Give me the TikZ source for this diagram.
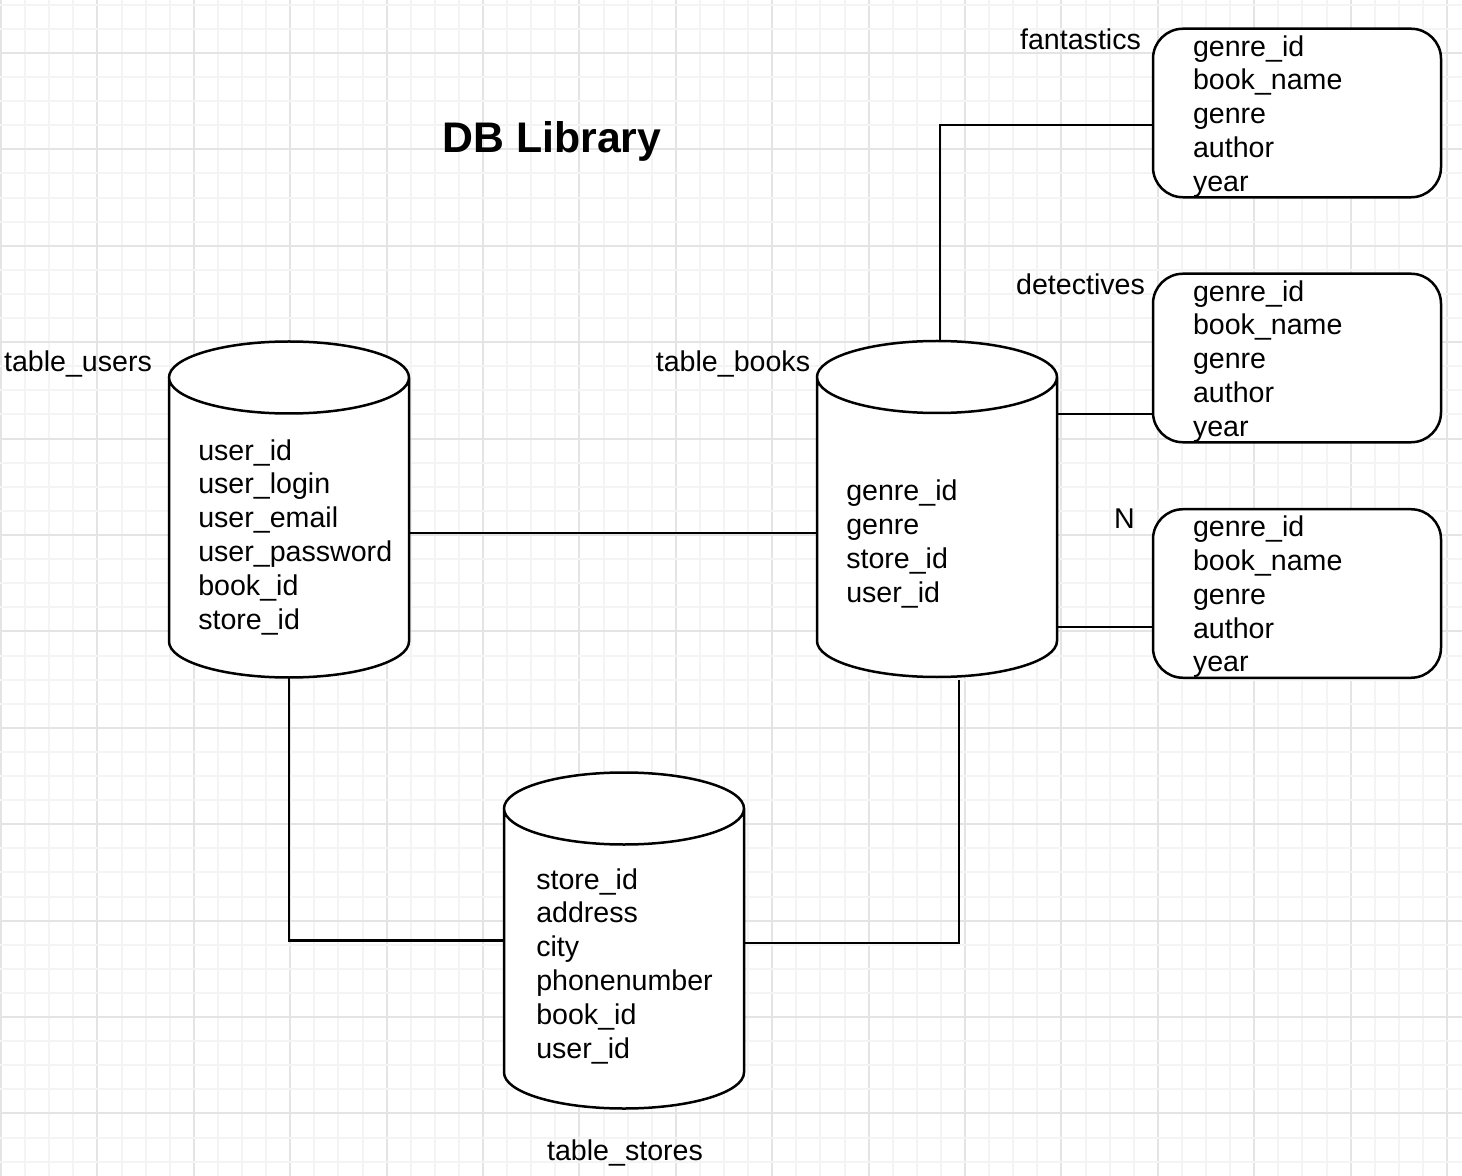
\documentclass[tikz,border=0pt]{standalone}
\usepackage{fontspec}
\setmainfont{Liberation Sans}
\usetikzlibrary{positioning,calc}
\definecolor{gridminor}{HTML}{F4F4F4}
\definecolor{gridmajor}{HTML}{E4E4E4}

\begin{document}
\begin{tikzpicture}[x=0.5pt, y=-0.5pt, line width=1.25pt,
    txt/.style={font=\fontsize{14.3pt}{16.9pt}\selectfont, inner sep=0pt, align=left},
    cyl/.style={minimum width=120pt, minimum height=168pt, inner sep=0pt, outer sep=0pt},
    gbox/.style={txt, draw, fill=white, rounded corners=15pt, text width=104pt,
        text height=13.7pt, inner xsep=20pt, minimum height=84pt}]
    \useasboundingbox (0,0) rectangle (1462,1176);
    \fill[white] (0,0) rectangle (1462,1176);

    % grid
    \foreach \k in {0,...,60} {
        \pgfmathtruncatemacro{\m}{mod(\k,4)}
        \ifnum\m=0 \def\gc{gridmajor}\else \def\gc{gridminor}\fi
        \draw[\gc, line width=1pt] ({1+24.1*\k}, 0) -- ({1+24.1*\k}, 1176);
    }
    \foreach \k in {0,...,48} {
        \pgfmathtruncatemacro{\m}{mod(\k+2,4)}
        \ifnum\m=0 \def\gc{gridmajor}\else \def\gc{gridminor}\fi
        \draw[\gc, line width=1pt] (0, {4.8+24.1*\k}) -- (1462, {4.8+24.1*\k});
    }

    \node[font=\fontsize{21.4pt}{25pt}\selectfont\bfseries] (title) at (552, 141) {DB Library};

    % tables
    \node[cyl] (users) at (289, 509.5) {};
    \node[cyl] (books) at (937, 509) {};
    \node[cyl] (stores) at (624, 940.5) {};
    \foreach \c in {users, books, stores} {
        \draw[fill=white] ([yshift=-18pt]\c.north west) -- ([yshift=18pt]\c.south west)
            arc[start angle=180, end angle=360, x radius=60pt, y radius=18pt]
            -- ([yshift=-18pt]\c.north east)
            arc[start angle=0, end angle=360, x radius=60pt, y radius=18pt];
    }
    \node[txt, anchor=west] (ufields) at (197, 537) {user\_id\\user\_login\\user\_email\\user\_password\\book\_id\\store\_id};
    \node[txt, anchor=west] (bfields) at (845, 544) {genre\_id\\genre\\store\_id\\user\_id};
    \node[txt, anchor=west] (sfields) at (535, 966) {store\_id\\address\\city\\phonenumber\\book\_id\\user\_id};

    \node[txt] (ulabel) at (78, 364) {table\_users};
    \node[txt] (blabel) at (733, 364) {table\_books};
    \node[txt] (slabel) at (625, 1153) {table\_stores};

    % genres
    \node[gbox] (fant) at (1297, 113) {genre\_id\\book\_name\\genre\\author\\year};
    \node[gbox] (det) at (1297, 358) {genre\_id\\book\_name\\genre\\author\\year};
    \node[gbox] (nbox) at (1297, 593.5) {genre\_id\\book\_name\\genre\\author\\year};
    \node[txt] (flabel) at (1080.5, 39) {fantastics};
    \node[txt] (dlabel) at (1080.5, 284) {detectives};
    \node[txt] (nlabel) at (1124.5, 519) {N};

    % links
    \coordinate (ub) at ([yshift=-11.75pt]users.east);
    \draw (ub) -- (ub -| books.west);
    \draw (users.south) |- (stores.west);
    \coordinate (bkfoot) at (959, 680);
    \draw ([yshift=-1.25pt]stores.east) -| (bkfoot);
    \coordinate (fantin) at ([yshift=-6pt]fant.west);
    \draw ([xshift=1.5pt]books.north) |- (fantin);
    \coordinate (detin) at ([yshift=-28pt]det.west);
    \draw (detin -| books.east) -- (detin);
    \coordinate (nin) at ([yshift=-16.75pt]nbox.west);
    \draw (nin -| books.east) -- (nin);
\end{tikzpicture}
\end{document}
